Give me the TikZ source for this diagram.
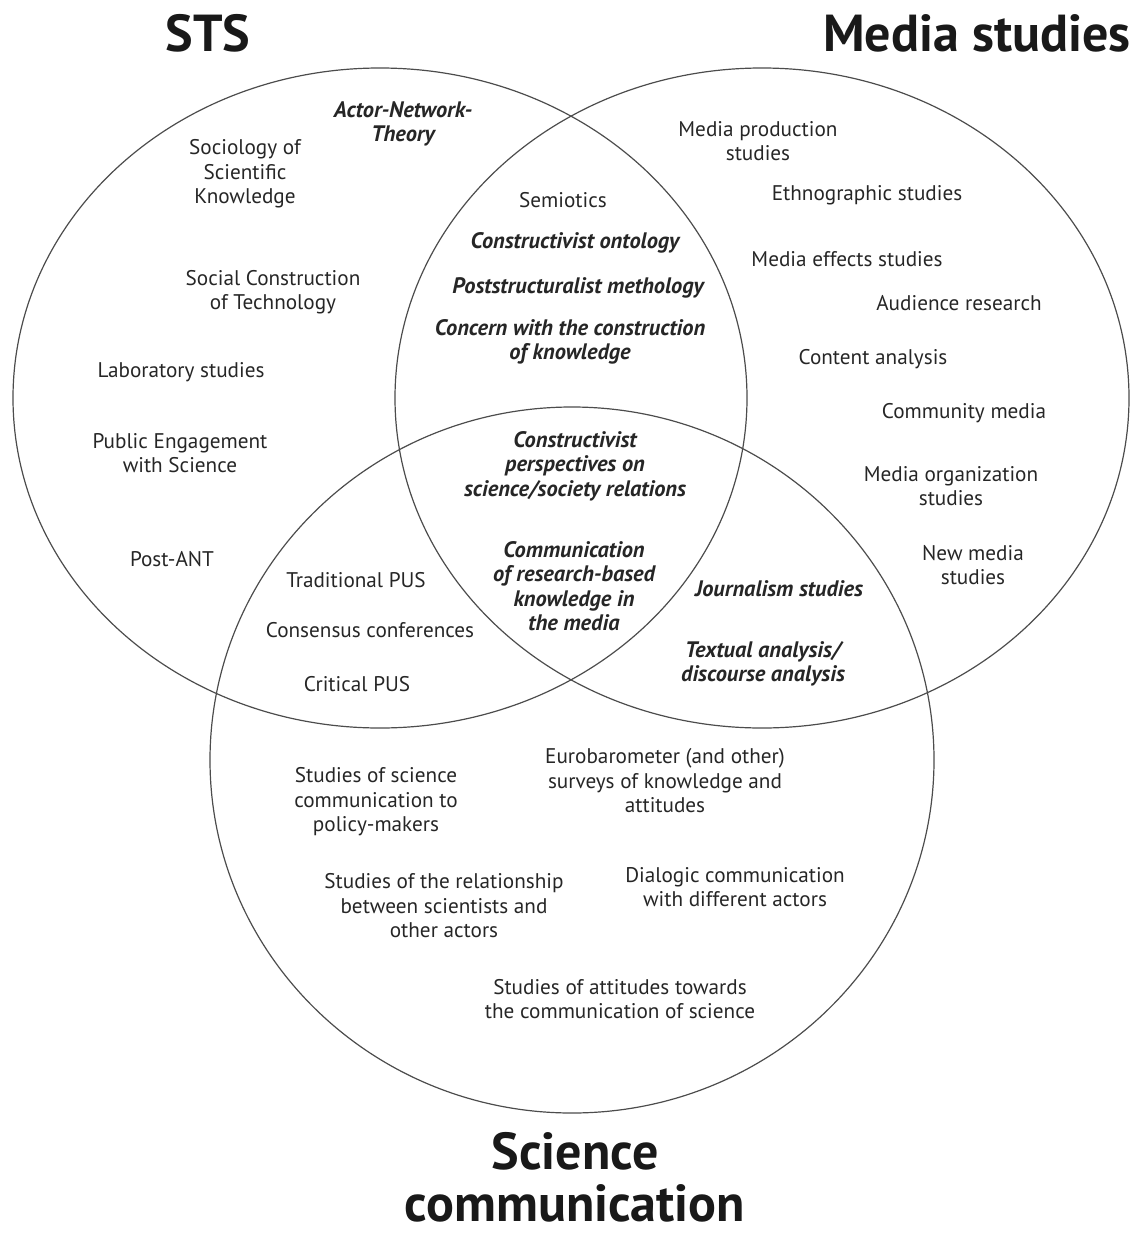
\documentclass[tikz,border=0pt]{standalone}
\usepackage{fontspec}
\setmainfont{PT Sans}
\colorlet{textcolor}{black!85}
\colorlet{ringcolor}{black!70}
\newcommand{\lblsize}{\fontsize{10.6}{12.25}\selectfont}
\newcommand{\emphsize}{\fontsize{11.2}{12.25}\selectfont}
\newcommand{\titlesize}{\fontsize{26}{26}\selectfont}

\begin{document}
\begin{tikzpicture}[x=0.5pt, y=-0.5pt,
        ring/.style={draw=ringcolor, line width=0.6pt},
        lbl/.style={text=textcolor, align=center, inner sep=0pt, font=\lblsize},
        emph/.style={lbl, font=\emphsize\bfseries\itshape},
        title/.style={text=black!90, align=center, inner sep=0pt, font=\titlesize\bfseries}]
        \useasboundingbox (0,0) rectangle (1132,1236);

        % the three fields
        \draw[ring] (380,398) ellipse [x radius=183.5pt, y radius=165pt];
        \draw[ring] (762,398) ellipse [x radius=183.5pt, y radius=165pt];
        \draw[ring] (572,760) ellipse [x radius=181pt, y radius=176.5pt];

        \node (sts) [title] at (208,33) {STS};
        \node (media) [title] at (977,33) {Media studies};
        \node (scom) [title] at (575,1177) {Science\\communication};

        % STS
        \node (ant) [emph] at (403,124) {Actor-Network-\\Theory};
        \node (ssk) [lbl] at (245,174) {Sociology of\\Scientific\\Knowledge};
        \node (scot) [lbl] at (273,292) {Social Construction\\of Technology};
        \node (lab) [lbl] at (181,372) {Laboratory studies};
        \node (pes) [lbl] at (180,453) {Public Engagement\\with Science};
        \node (postant) [lbl] at (172,559) {Post-ANT};

        % STS and media studies
        \node (semio) [lbl] at (563,200) {Semiotics};
        \node (ontol) [emph] at (575,243) {Constructivist ontology};
        \node (poststr) [emph] at (578,288) {Poststructuralist methology};
        \node (concern) [emph] at (570,342) {Concern with the construction\\of knowledge};

        % media studies
        \node (medprod) [lbl] at (758,141) {Media production\\studies};
        \node (ethno) [lbl] at (867,195) {Ethnographic studies};
        \node (effects) [lbl] at (847,259) {Media effects studies};
        \node (audience) [lbl] at (959,303) {Audience research};
        \node (content) [lbl] at (873,359) {Content analysis};
        \node (community) [lbl] at (964,413) {Community media};
        \node (medorg) [lbl] at (951,486) {Media organization\\studies};
        \node (newmed) [lbl] at (973,565) {New media\\studies};

        % all three
        \node (constr) [emph] at (575,466) {Constructivist\\perspectives on\\science/society relations};
        \node (commres) [emph] at (574,586) {Communication\\of research-based\\knowledge in\\the media};

        % STS and science communication
        \node (tradpus) [lbl] at (356,580) {Traditional PUS};
        \node (consensus) [lbl] at (370,630) {Consensus conferences};
        \node (critpus) [lbl] at (357,684) {Critical PUS};

        % media studies and science communication
        \node (journ) [emph] at (779,589) {Journalism studies};
        \node (textual) [emph] at (763,664) {Textual analysis/\\discourse analysis};

        % science communication
        \node (policy) [lbl] at (376,802) {Studies of science\\communication to\\policy-makers};
        \node (euro) [lbl] at (665,781) {Eurobarometer (and other)\\surveys of knowledge and\\attitudes};
        \node (relation) [lbl] at (444,906) {Studies of the relationship\\between scientists and\\other actors};
        \node (dialogic) [lbl] at (735,887) {Dialogic communication\\with different actors};
        \node (attitudes) [lbl] at (620,999) {Studies of attitudes towards\\the communication of science};
\end{tikzpicture}
\end{document}
